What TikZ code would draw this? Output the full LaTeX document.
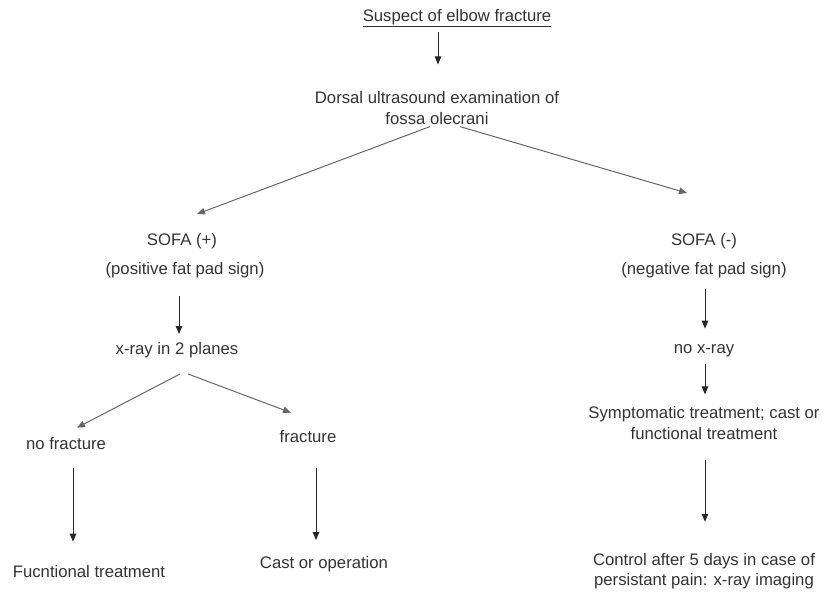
\documentclass[tikz,border=0pt]{standalone}
\usepackage{fontspec}
\setmainfont{Liberation Sans}
\usetikzlibrary{arrows.meta}

\tikzset{
  txt/.style={text=black!80, font=\fontsize{16.7}{20.5}\selectfont, align=center, inner sep=0pt},
  arr/.style={draw=black!85, line width=1pt, -{Triangle[length=8pt,width=6.5pt]}},
  slant/.style={arr, draw=black!60}
}

\begin{document}
\begin{tikzpicture}[x=1pt,y=-1pt]
\useasboundingbox (0,0) rectangle (825,595);
\node[txt] (suspect) at (457,18) {\underline{Suspect of elbow fracture}};
\node[txt] (dorsal) at (437,108) {Dorsal ultrasound examination of\\fossa olecrani};
\node[txt] (sofapos) at (182,241) {SOFA (+)};
\node[txt] (posfat) at (185,270) {(positive fat pad sign)};
\node[txt] (xray) at (177,350) {x-ray in 2 planes};
\node[txt] (nofrac) at (66,444) {no fracture};
\node[txt] (frac) at (308,437) {fracture};
\node[txt] (functional) at (89,572) {Fucntional treatment};
\node[txt] (cast) at (324,564) {Cast or operation};
\node[txt] (sofaneg) at (704,241) {SOFA (-)};
\node[txt] (negfat) at (704,270) {(negative fat pad sign)};
\node[txt] (noxray) at (704,351) {no x-ray};
\node[txt] (sympt) at (704,423) {Symptomatic treatment; cast or\\functional treatment};
\node[txt] (control) at (704,571) {Control after 5 days in case of\\persistant pain: x-ray imaging};

\draw[arr] ([shift={(-19,5)}]suspect.south) -- ([shift={(1,-27)}]dorsal.north);
\draw[slant] ([shift={(-7,2)}]dorsal.south) -- ([shift={(15,-19)}]sofapos.north);
\draw[slant] ([shift={(23,2)}]dorsal.south) -- ([shift={(-17,-40)}]sofaneg.north);
\draw[arr] ([shift={(-6,18)}]posfat.south) -- ([shift={(2,-8)}]xray.north);
\draw[slant] ([shift={(3,16)}]xray.south) -- ([shift={(11,-10)}]nofrac.north);
\draw[slant] ([shift={(11,16)}]xray.south) -- ([shift={(-17,-18)}]frac.north);
\draw[arr] ([shift={(7,18)}]nofrac.south) -- ([shift={(-16,-24)}]functional.north);
\draw[arr] ([shift={(8,25)}]frac.south) -- ([shift={(-8,-16)}]cast.north);
\draw[arr] ([shift={(1,11)}]negfat.south) -- ([shift={(1,-16)}]noxray.north);
\draw[arr] ([shift={(1,7)}]noxray.south) -- ([shift={(1,-12)}]sympt.north);
\draw[arr] ([shift={(1,20)}]sympt.south) -- ([shift={(1,-31)}]control.north);
\end{tikzpicture}
\end{document}
